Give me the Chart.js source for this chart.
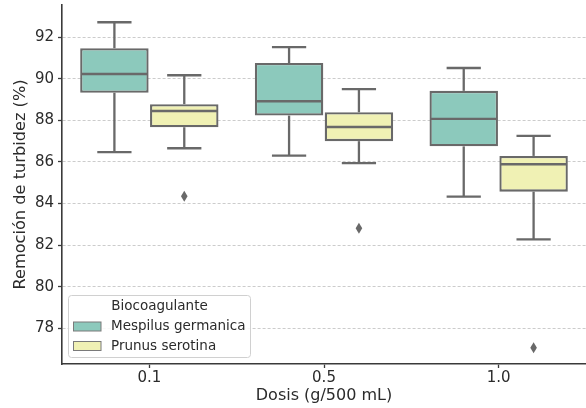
<!DOCTYPE html>
<html>
<head>
<meta charset="utf-8">
<script src="https://cdn.jsdelivr.net/npm/chart.js@4/dist/chart.umd.min.js"></script>
<style>
  html, body { margin: 0; padding: 0; background: #ffffff; }
  #wrap { width: 586px; height: 408px; position: relative; }
</style>
</head>
<body>
<div id="wrap"><canvas id="c" width="586" height="408"></canvas></div>
<script>
// ---- data ----
const categories = ['0.1', '0.5', '1.0'];
const seriesNames = ['Mespilus germanica', 'Prunus serotina'];
const legendTitle = 'Biocoagulante';
const xTitle = 'Dosis (g/500 mL)';
const yTitle = 'Remoción de turbidez (%)';
const yTickValues = [78, 80, 82, 84, 86, 88, 90, 92];

const mespilusMin    = [86.47, 86.30, 84.33];
const mespilusQ1     = [89.33, 88.23, 86.75];
const mespilusMedian = [90.23, 88.92, 88.07];
const mespilusQ3     = [91.47, 90.76, 89.42];
const mespilusMax    = [92.72, 91.52, 90.52];
const mespilusOutliers = [[], [], []];

const prunusMin    = [86.66, 85.94, 82.28];
const prunusQ1     = [87.67, 87.00, 84.57];
const prunusMedian = [88.45, 87.68, 85.89];
const prunusQ3     = [88.78, 88.39, 86.29];
const prunusMax    = [90.17, 89.50, 87.25];
const prunusOutliers = [[84.35], [82.81], [77.06]];

// ---- styling ----
const FONT = "'DejaVu Sans', 'Liberation Sans', sans-serif";
const colors = ['#8cc9bc', '#f0f1b4'];
const lineColor = '#696969';
const lineW = 2.3;
const textColor = '#2b2b2b';
const axisColor = '#3a3a3a';

const stats = [
  {min: mespilusMin, q1: mespilusQ1, med: mespilusMedian, q3: mespilusQ3, max: mespilusMax, out: mespilusOutliers},
  {min: prunusMin, q1: prunusQ1, med: prunusMedian, q3: prunusQ3, max: prunusMax, out: prunusOutliers}
];

const boxPlugin = {
  id: 'boxExtras',
  afterDatasetsDraw(chart) {
    const ctx = chart.ctx;
    const ys = chart.scales.y;
    const py = v => ys.getPixelForValue(v);
    const line = (x1, y1, x2, y2) => { ctx.beginPath(); ctx.moveTo(x1, y1); ctx.lineTo(x2, y2); ctx.stroke(); };
    chart.data.datasets.forEach((ds, di) => {
      const meta = chart.getDatasetMeta(di);
      const st = stats[di];
      meta.data.forEach((bar, i) => {
        const p = bar.getProps(['x', 'width'], true);
        const x = p.x, w = p.width;
        ctx.save();
        ctx.strokeStyle = lineColor;
        ctx.lineWidth = lineW;
        ctx.lineCap = 'butt';
        line(x, py(st.q3[i]), x, py(st.max[i]));
        line(x, py(st.q1[i]), x, py(st.min[i]));
        line(x - w / 4, py(st.max[i]), x + w / 4, py(st.max[i]));
        line(x - w / 4, py(st.min[i]), x + w / 4, py(st.min[i]));
        line(x - w / 2 + 1, py(st.med[i]), x + w / 2 - 1, py(st.med[i]));
        ctx.fillStyle = lineColor;
        st.out[i].forEach(v => {
          const yy = py(v);
          ctx.beginPath();
          ctx.moveTo(x, yy - 5.5);
          ctx.lineTo(x + 3.3, yy);
          ctx.lineTo(x, yy + 5.5);
          ctx.lineTo(x - 3.3, yy);
          ctx.closePath();
          ctx.fill();
        });
        ctx.restore();
      });
    });
  },
  afterDraw(chart) {
    const ctx = chart.ctx;
    ctx.save();
    // legend frame
    const lx = 68.5, ly = 295.5, lw = 182, lh = 62, r = 3;
    ctx.beginPath();
    ctx.moveTo(lx + r, ly);
    ctx.lineTo(lx + lw - r, ly); ctx.arcTo(lx + lw, ly, lx + lw, ly + r, r);
    ctx.lineTo(lx + lw, ly + lh - r); ctx.arcTo(lx + lw, ly + lh, lx + lw - r, ly + lh, r);
    ctx.lineTo(lx + r, ly + lh); ctx.arcTo(lx, ly + lh, lx, ly + lh - r, r);
    ctx.lineTo(lx, ly + r); ctx.arcTo(lx, ly, lx + r, ly, r);
    ctx.closePath();
    ctx.fillStyle = 'rgba(255,255,255,0.85)';
    ctx.fill();
    ctx.strokeStyle = '#d0d0d0';
    ctx.lineWidth = 1;
    ctx.stroke();
    // title
    ctx.fillStyle = textColor;
    ctx.font = '13.5px ' + FONT;
    ctx.textAlign = 'center';
    ctx.textBaseline = 'middle';
    ctx.fillText(legendTitle, 159.5, 306.5);
    // items
    ctx.textAlign = 'left';
    chart.data.datasets.forEach((ds, i) => {
      const yy = 326.5 + i * 19.5;
      ctx.fillStyle = ds.backgroundColor;
      ctx.fillRect(73.5, yy - 4.5, 27.5, 9);
      ctx.strokeStyle = '#7a7a7a';
      ctx.lineWidth = 1;
      ctx.strokeRect(73.5, yy - 4.5, 27.5, 9);
      ctx.fillStyle = textColor;
      ctx.fillText(ds.label, 111, yy);
    });
    ctx.restore();
  }
};

Chart.defaults.font.family = FONT;
Chart.defaults.color = textColor;

new Chart(document.getElementById('c'), {
  type: 'bar',
  data: {
    labels: categories,
    datasets: stats.map((st, di) => ({
      label: seriesNames[di],
      data: st.q1.map((v, i) => [v, st.q3[i]]),
      backgroundColor: colors[di],
      borderColor: lineColor,
      borderWidth: lineW,
      borderSkipped: false,
      categoryPercentage: 0.8,
      barPercentage: 0.98
    }))
  },
  options: {
    responsive: false,
    animation: false,
    events: [],
    layout: { padding: { left: 0, right: 0, top: 5, bottom: 0 } },
    plugins: { legend: { display: false }, tooltip: { enabled: false }, title: { display: false } },
    scales: {
      x: {
        type: 'category',
        offset: true,
        grid: { display: true, offset: false, drawOnChartArea: false, drawTicks: true, tickLength: 4, tickColor: axisColor, tickWidth: 1.3 },
        border: { display: true, color: axisColor, width: 1.6 },
        ticks: { font: { size: 15 }, color: textColor, padding: 1, maxRotation: 0 },
        title: { display: true, text: xTitle, font: { size: 16 }, color: textColor, padding: { top: 0, bottom: 3 } },
        afterFit(scale) { scale.height = 44; scale.paddingLeft = 0; scale.paddingRight = 0; }
      },
      y: {
        min: 76.28,
        max: 93.55,
        grid: { display: true, drawOnChartArea: true, drawTicks: true, tickLength: 4, color: '#cccccc', lineWidth: 1, tickColor: axisColor, tickWidth: 1.3 },
        border: { display: true, color: axisColor, width: 1.6, dash: [3, 2] },
        ticks: { font: { size: 15 }, color: textColor, padding: 4 },
        afterBuildTicks(scale) { scale.ticks = yTickValues.map(v => ({ value: v })); },
        title: { display: true, text: yTitle, font: { size: 16.2 }, color: textColor, padding: { top: 11, bottom: 0 } },
        afterFit(scale) { scale.width = 62; scale.paddingTop = 0; scale.paddingBottom = 0; }
      }
    }
  },
  plugins: [boxPlugin]
});
</script>
</body>
</html>
